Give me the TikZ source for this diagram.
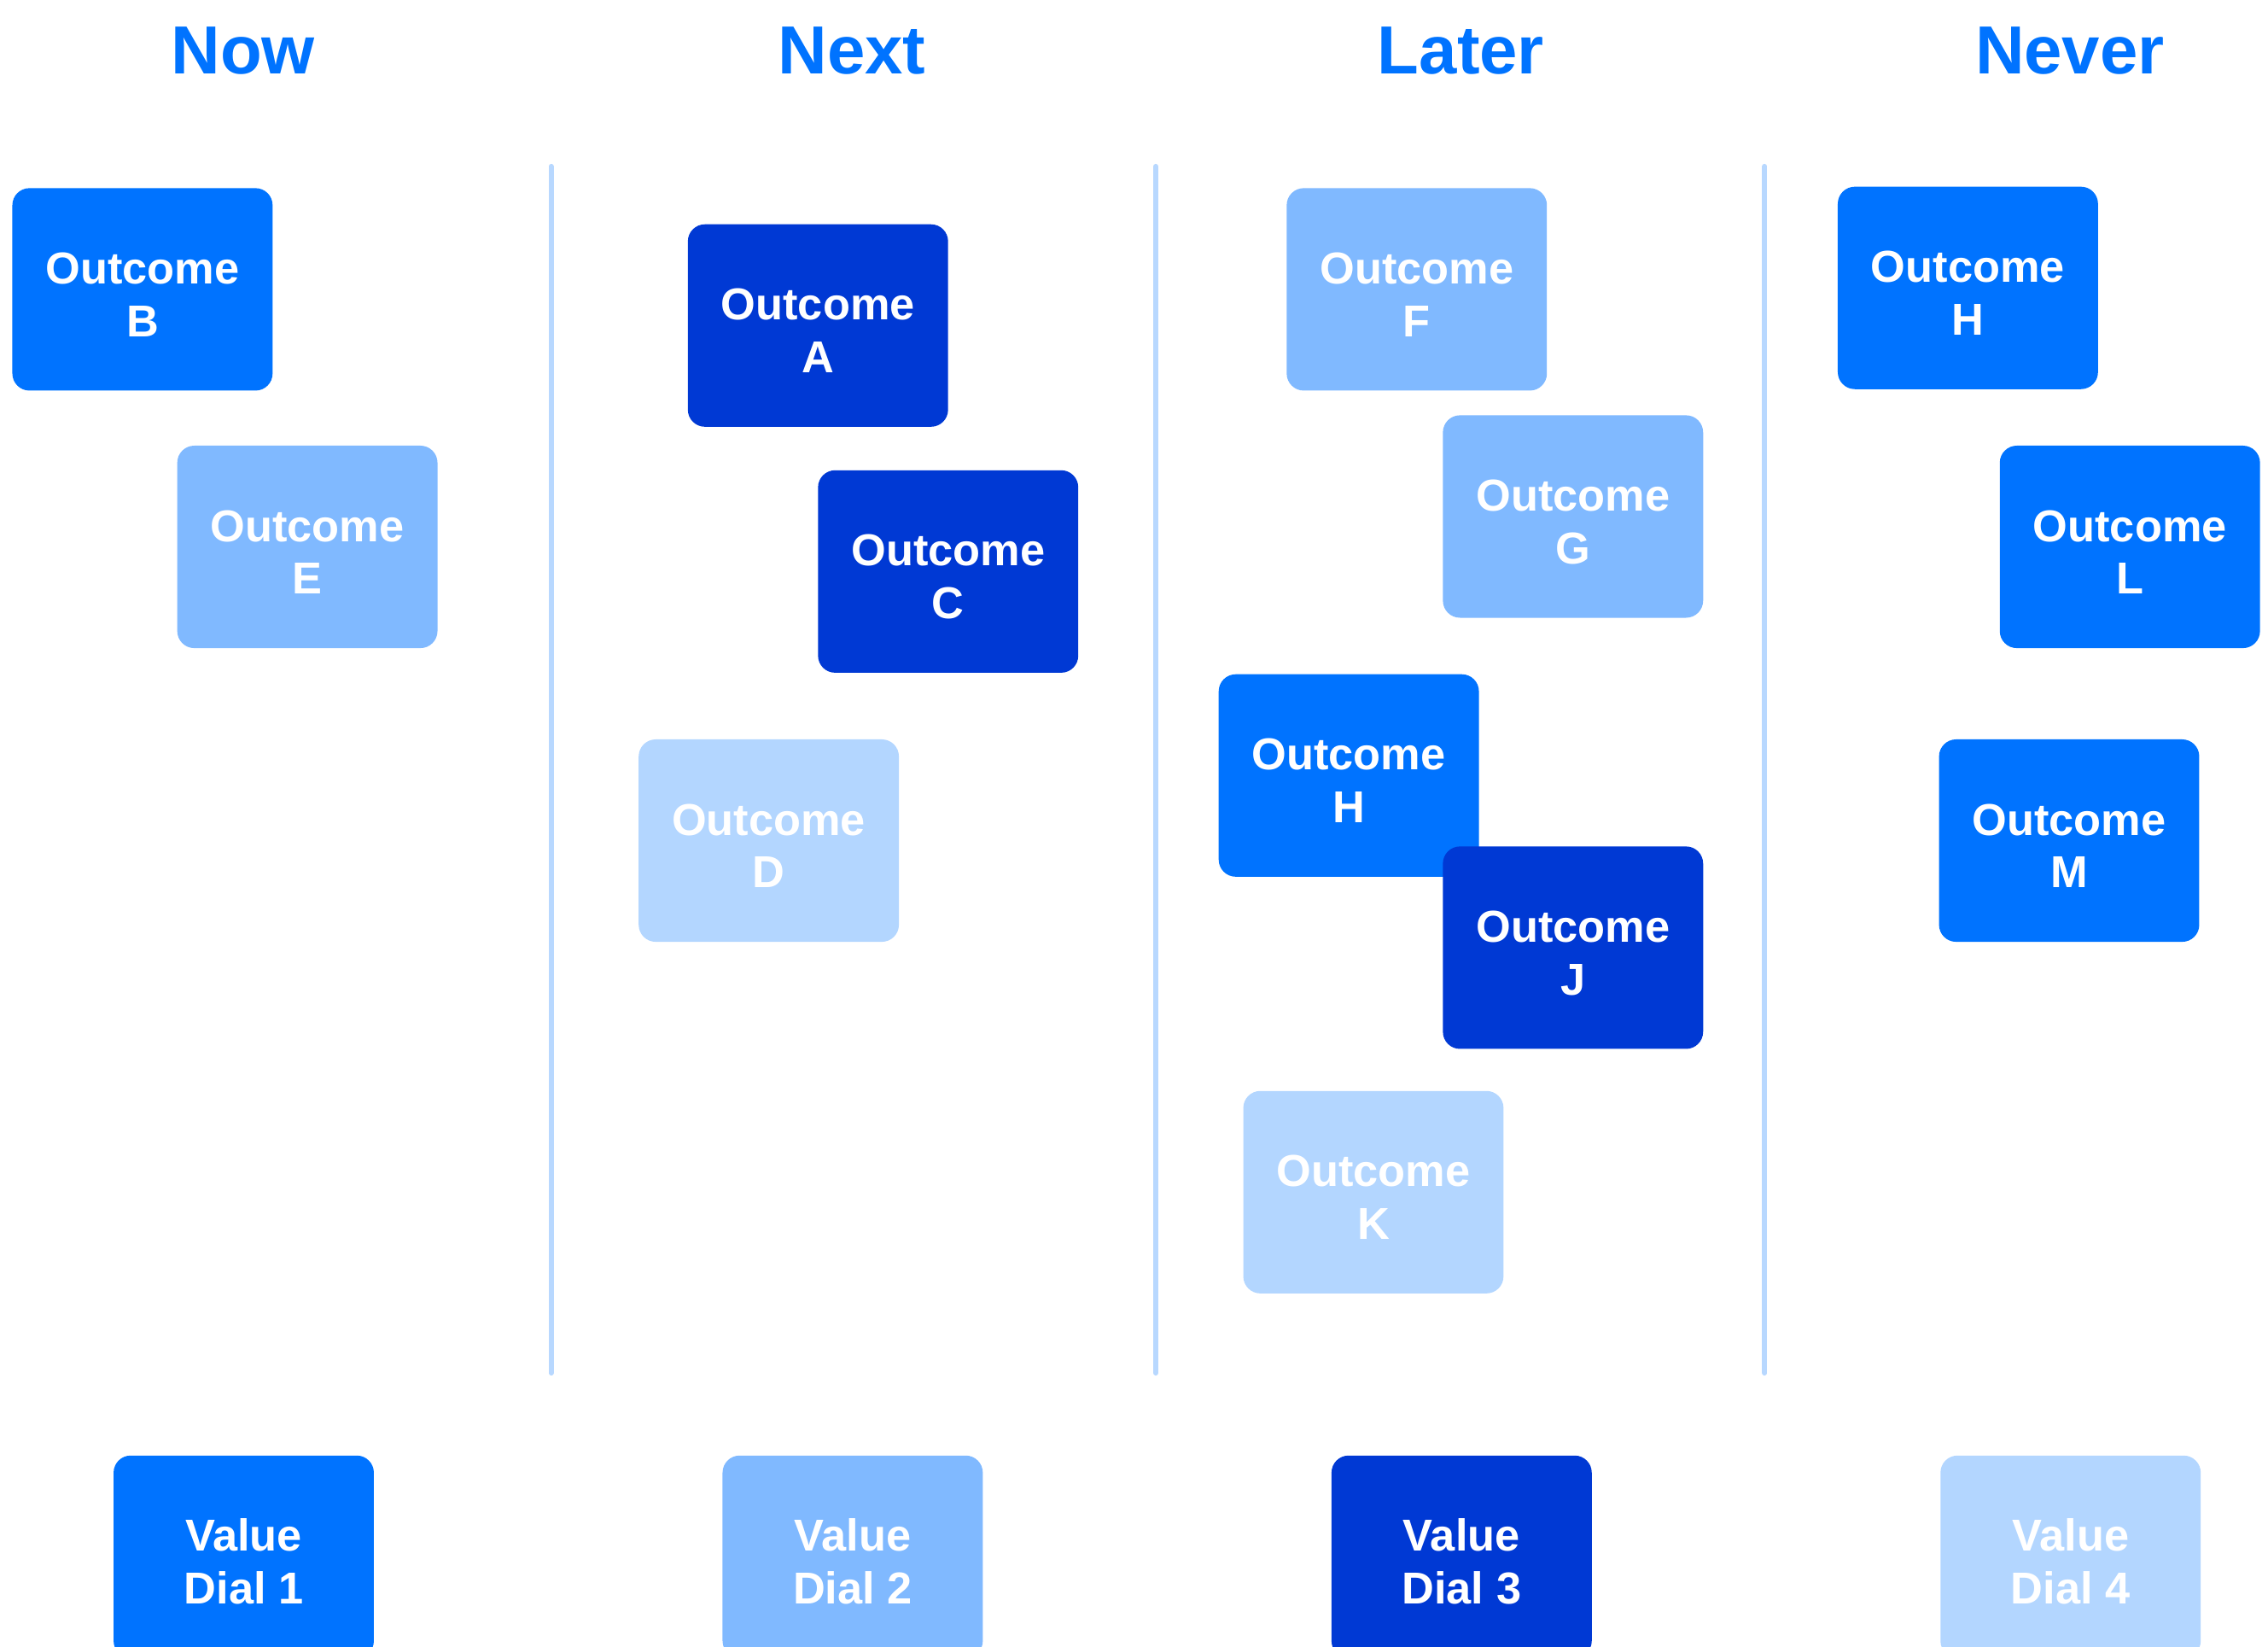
\documentclass[tikz,border=0pt]{standalone}
\usepackage{fontspec}
\setmainfont{Liberation Sans}
\usepackage{xcolor}
\usetikzlibrary{positioning}

\definecolor{midblue}{HTML}{0073FF}
\definecolor{darkblue}{HTML}{0039D4}
\definecolor{lightblue}{HTML}{80B9FF}
\definecolor{paleblue}{HTML}{B3D6FF}
\definecolor{rule}{HTML}{B8D8FF}

\begin{document}
\begin{tikzpicture}[
    x=0.016945cm, y=-0.016945cm,
    card/.style={rounded corners=0.2cm, minimum width=3.05cm, minimum height=2.372cm,
                 align=center, inner sep=0pt, outer sep=0pt, text=white,
                 font=\bfseries\fontsize{14.9}{17.6}\selectfont,
                 text height=31.5pt, text depth=0pt},
    head/.style={text=midblue, font=\bfseries\fontsize{22.7}{26}\selectfont},
    divider/.style={draw=rule, line width=1.7pt, line cap=round},
]
\useasboundingbox (0,0) rectangle (1568,1138);
\clip (0,0) rectangle (1568,1138);

% Column headers
\node[head] (hNow)   at (168, 35)  {Now};
\node[head] (hNext)  at (589, 35)  {Next};
\node[head] (hLater) at (1010, 35) {Later};
\node[head] (hNever) at (1431, 35) {Never};

% Column dividers
\coordinate (d1t) at (381, 115);  \coordinate (d1b) at (381, 949);
\coordinate (d2t) at (799, 115);  \coordinate (d2b) at (799, 949);
\coordinate (d3t) at (1220, 115); \coordinate (d3b) at (1220, 949);
\draw[divider] (d1t) -- (d1b);
\draw[divider] (d2t) -- (d2b);
\draw[divider] (d3t) -- (d3b);

% --- Now ---
\node[card, fill=midblue]   (outB) at (98.5, 200) {Outcome\\B};
\node[card, fill=lightblue] (outE) at (212.5, 378) {Outcome\\E};

% --- Next ---
\node[card, fill=darkblue]  (outA) at (565.5, 225) {Outcome\\A};
\node[card, fill=darkblue]  (outC) at (655.5, 395) {Outcome\\C};
\node[card, fill=paleblue]  (outD) at (531.5, 581) {Outcome\\D};

% --- Later ---
\node[card, fill=lightblue] (outF) at (979.5, 200) {Outcome\\F};
\node[card, fill=lightblue] (outG) at (1087.5, 357) {Outcome\\G};
\node[card, fill=midblue]   (outHl) at (932.5, 536) {Outcome\\H};
\node[card, fill=darkblue]  (outJ) at (1087.5, 655) {Outcome\\J};
\node[card, fill=paleblue]  (outK) at (949.5, 824) {Outcome\\K};

% --- Never ---
\node[card, fill=midblue]   (outHn) at (1360.5, 199) {Outcome\\H};
\node[card, fill=midblue]   (outL) at (1472.5, 378) {Outcome\\L};
\node[card, fill=midblue]   (outM) at (1430.5, 581) {Outcome\\M};

% Value dials (run off the bottom edge)
\node[card, fill=midblue]   (dial1) at (168.5, 1076) {Value\\Dial 1};
\node[card, fill=lightblue] (dial2) at (589.5, 1076) {Value\\Dial 2};
\node[card, fill=darkblue]  (dial3) at (1010.5, 1076) {Value\\Dial 3};
\node[card, fill=paleblue]  (dial4) at (1431.5, 1076) {Value\\Dial 4};
\end{tikzpicture}
\end{document}
